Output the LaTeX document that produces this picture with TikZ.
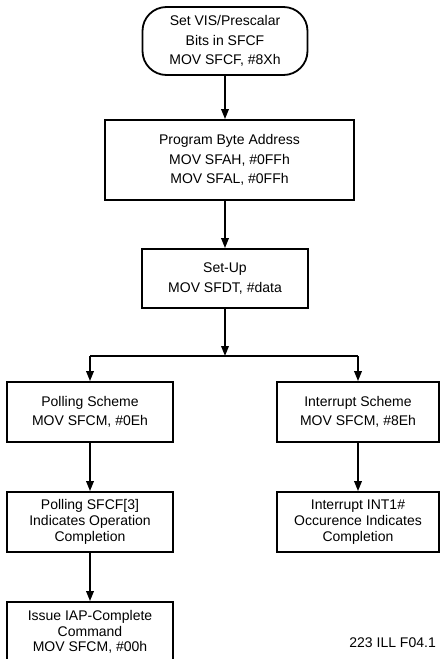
\documentclass[tikz,border=0pt]{standalone}
\usepackage{fontspec}
\setmainfont{Liberation Sans}
\usetikzlibrary{arrows.meta}
\tikzset{
  box/.style={draw, line width=1.8pt, align=center, inner sep=0pt,
    font=\fontsize{14}{19.5}\selectfont},
  tightbox/.style={box, font=\fontsize{14}{15.7}\selectfont},
  startbox/.style={box, rounded corners=24pt},
  flow/.style={line width=1.8pt, -{Triangle[length=10pt,width=7.5pt]}},
  link/.style={line width=1.8pt},
}
\begin{document}
\begin{tikzpicture}[x=1pt, y=-1pt]
  \fill[white] (0,0) rectangle (440,659);
  \useasboundingbox (0,0) rectangle (440,659);

  % main sequence
  \node[startbox, minimum width=165pt, minimum height=68pt] (setvis) at (225,41)
    {Set VIS/Prescalar\\Bits in SFCF\\MOV SFCF, \#8Xh};
  \node[box, minimum width=249pt, minimum height=80pt] (addr) at (229.5,160)
    {Program Byte Address\\MOV SFAH, \#0FFh\\MOV SFAL, \#0FFh};
  \node[box, minimum width=166pt, minimum height=59pt] (setup) at (225,278.5)
    {Set-Up\\MOV SFDT, \#data};

  % polling branch
  \node[box, minimum width=166pt, minimum height=60pt] (poll) at (90,412)
    {Polling Scheme\\MOV SFCM, \#0Eh};
  \node[tightbox, minimum width=166pt, minimum height=60pt] (pollwait) at (90,522)
    {Polling SFCF[3]\\Indicates Operation\\Completion};
  \node[tightbox, minimum width=166pt, minimum height=60pt] (issue) at (90,632)
    {Issue IAP-Complete\\Command\\MOV SFCM, \#00h};

  % interrupt branch
  \node[box, minimum width=162pt, minimum height=60pt] (intr) at (358,412)
    {Interrupt Scheme\\MOV SFCM, \#8Eh};
  \node[tightbox, minimum width=162pt, minimum height=60pt] (intwait) at (358,522)
    {Interrupt INT1\#\\Occurence Indicates\\Completion};

  % figure tag
  \node[anchor=east, inner sep=0pt, font=\fontsize{14}{16}\selectfont] (tag) at (436,643)
    {223 ILL F04.1};

  % connectors
  \coordinate (split) at (225,356);
  \draw[flow] (setvis.south) -- (setvis.south |- addr.north);
  \draw[flow] (setup.north |- addr.south) -- (setup.north);
  \draw[flow] (setup.south) -- (split);
  \draw[link] (poll.north |- split) -- (intr.north |- split);
  \draw[flow] (poll.north |- split) -- (poll.north);
  \draw[flow] (intr.north |- split) -- (intr.north);
  \draw[flow] (poll) -- (pollwait);
  \draw[flow] (pollwait) -- (issue);
  \draw[flow] (intr) -- (intwait);
\end{tikzpicture}
\end{document}
